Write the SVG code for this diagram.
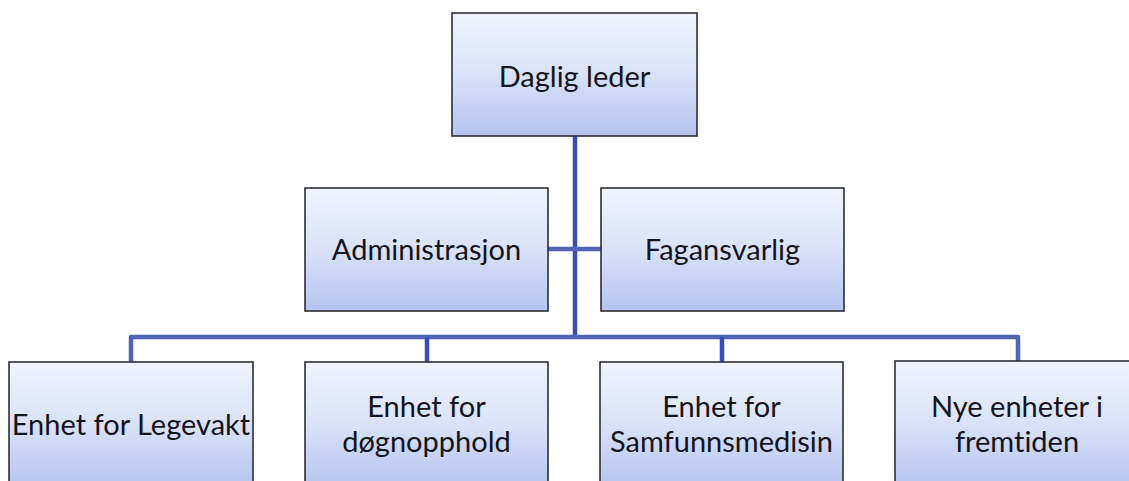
<svg xmlns="http://www.w3.org/2000/svg" width="1129" height="481" viewBox="0 0 1129 481">
<style>
.box{fill:url(#g);stroke:#2e2e38;stroke-width:1.6}
.t{font-family:Lato,"Open Sans","Liberation Sans",sans-serif;font-size:29px;fill:#14141c;text-anchor:middle;dominant-baseline:central;font-variant-ligatures:none}
.c{fill:none;stroke:#3a4db2;stroke-width:4.5;stroke-linejoin:round;stroke-linecap:butt}
.h{stroke:#5064b8}
</style>
<defs>
<linearGradient id="g" x1="0" y1="0" x2="0" y2="1">
<stop offset="0" stop-color="#f1f4fc"/>
<stop offset="0.5" stop-color="#d9e2f8"/>
<stop offset="1" stop-color="#b3c4ef"/>
</linearGradient>
</defs>
<rect width="1129" height="481" fill="#ffffff"/>
<g id="connectors">
<path class="c" d="M575 136 V337"/>
<path class="c h" d="M548 249 H601"/>
<path class="c h" d="M131 362 V337 H1018 V362"/>
<path class="c" d="M427 337 V362"/>
<path class="c" d="M722 337 V362"/>
</g>
<g id="daglig-leder">
<rect class="box" x="452" y="13" width="245" height="123"/>
<text class="t" x="574.5" y="75">Daglig leder</text>
</g>
<g id="administrasjon">
<rect class="box" x="305" y="188" width="243" height="123"/>
<text class="t" x="426.5" y="248">Administrasjon</text>
</g>
<g id="fagansvarlig">
<rect class="box" x="601" y="188" width="243" height="123"/>
<text class="t" x="722.5" y="248">Fagansvarlig</text>
</g>
<g id="legevakt">
<rect class="box" x="9" y="362" width="244" height="125"/>
<text class="t" x="131" y="423">Enhet for Legevakt</text>
</g>
<g id="dognopphold">
<rect class="box" x="305" y="362" width="243" height="125"/>
<text class="t" x="426.5" y="405">Enhet for</text>
<text class="t" x="426.5" y="440">døgnopphold</text>
</g>
<g id="samfunnsmedisin">
<rect class="box" x="600" y="362" width="243" height="125"/>
<text class="t" x="721.5" y="405">Enhet for</text>
<text class="t" x="721.5" y="440">Samfunnsmedisin</text>
</g>
<g id="nye-enheter">
<rect class="box" x="895" y="361" width="245" height="126"/>
<text class="t" x="1017" y="405">Nye enheter i</text>
<text class="t" x="1017" y="440">fremtiden</text>
</g>
</svg>
